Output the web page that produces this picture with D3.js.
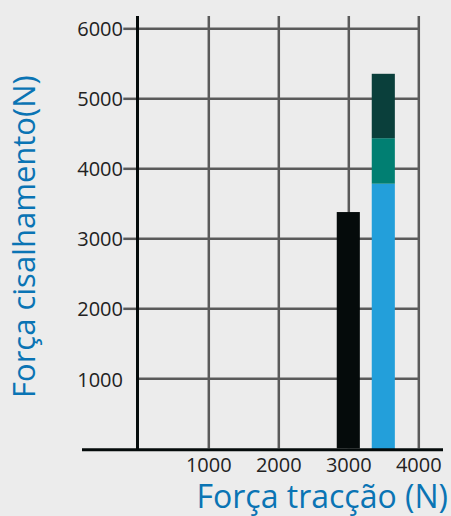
<!DOCTYPE html>
<html>
<head>
<meta charset="utf-8">
<script src="https://cdn.jsdelivr.net/npm/d3@7"></script>
<style>
  body { margin: 0; background: #ececec; }
</style>
</head>
<body>
<div id="vis"></div>
<script>
// data
const xTicks = [1000, 2000, 3000, 4000];
const yTicks = [1000, 2000, 3000, 4000, 5000, 6000];
const singleBar = [{ x: 3000, value: 3375 }];
const stackX = 3500;
const stackLayers = ['base', 'middle', 'top'];
const stackValues = [3780, 650, 920]; // tops at ~3780, ~4430, ~5350
const layerColors = ['#239fda', '#017f72', '#0a3f3b'];

const width = 451;
const height = 516;
const barWidth = 330; // in data units

const x = d3.scaleLinear().domain([0, 4000]).range([138.3, 418.3]);
const y = d3.scaleLinear().domain([0, 6000]).range([448.3, 28.3]);

const gridColor = '#5a5a5a';
const inkColor = '#050b0b';
const titleColor = '#0a74b4';
const font = '"Open Sans", sans-serif';
const fmt = d3.format('d');

const svg = d3.select('#vis')
    .append('svg')
    .attr('width', width)
    .attr('height', height)
    .style('background', '#ececec');

// vertical grid lines
svg.append('g')
    .attr('transform', `translate(0, ${y(0)})`)
    .call(d3.axisBottom(x).tickValues(xTicks).tickSize(-(y(0) - 16)).tickFormat(''))
    .call(g => g.select('.domain').remove())
    .call(g => g.selectAll('.tick line').attr('stroke', gridColor).attr('stroke-width', 2.5));

// horizontal grid lines
svg.append('g')
    .attr('transform', `translate(${x(0)}, 0)`)
    .call(d3.axisRight(y).tickValues(yTicks).tickSize(x(4000) - x(0)).tickFormat(''))
    .call(g => g.select('.domain').remove())
    .call(g => g.selectAll('.tick line').attr('stroke', gridColor).attr('stroke-width', 2.5));

// small stubs left of the y axis (none at 1000)
svg.append('g')
    .attr('transform', `translate(${x(0)}, 0)`)
    .call(d3.axisLeft(y).tickValues(yTicks.filter(d => d > 1000)).tickSize(15).tickFormat(''))
    .call(g => g.select('.domain').remove())
    .call(g => g.selectAll('.tick line').attr('stroke', gridColor).attr('stroke-width', 2.5));

// y tick labels
svg.append('g')
    .attr('transform', `translate(123, 0)`)
    .call(d3.axisLeft(y).tickValues(yTicks).tickSize(0).tickPadding(0).tickFormat(fmt))
    .call(g => g.select('.domain').remove())
    .call(g => g.selectAll('.tick text')
        .attr('fill', '#222')
        .attr('font-family', font)
        .attr('font-size', '20px')
        .attr('dy', d => d === 1000 ? '0.42em' : '0.34em'));

// x tick labels
svg.append('g')
    .attr('transform', `translate(0, ${y(0)})`)
    .call(d3.axisBottom(x).tickValues(xTicks).tickSize(0).tickPadding(10).tickFormat(fmt))
    .call(g => g.select('.domain').remove())
    .call(g => g.selectAll('.tick text')
        .attr('fill', '#222')
        .attr('font-family', font)
        .attr('font-size', '20px'));

// bars
svg.selectAll('.single')
    .data(singleBar)
    .join('rect')
    .attr('class', 'single')
    .attr('x', d => x(d.x - barWidth / 2))
    .attr('width', x(barWidth) - x(0))
    .attr('y', d => y(d.value))
    .attr('height', d => y(0) - y(d.value))
    .attr('fill', inkColor);

const stackRow = { x: stackX };
stackLayers.forEach((k, i) => stackRow[k] = stackValues[i]);
const series = d3.stack().keys(stackLayers)([stackRow]);

svg.selectAll('.stack')
    .data(series)
    .join('rect')
    .attr('class', 'stack')
    .attr('x', x(stackX - barWidth / 2))
    .attr('width', x(barWidth) - x(0))
    .attr('y', d => y(d[0][1]))
    .attr('height', d => y(d[0][0]) - y(d[0][1]) + (d[0][0] === 0 ? 1 : 0))
    .attr('fill', (d, i) => layerColors[i]);

// axis lines
svg.append('line')
    .attr('x1', 137.5).attr('x2', 137.5)
    .attr('y1', 16).attr('y2', 451)
    .attr('stroke', inkColor).attr('stroke-width', 3);

svg.append('line')
    .attr('x1', 82).attr('x2', 443)
    .attr('y1', 449.8).attr('y2', 449.8)
    .attr('stroke', inkColor).attr('stroke-width', 3);

// axis titles
svg.append('text')
    .attr('x', 448)
    .attr('y', 508)
    .attr('text-anchor', 'end')
    .attr('fill', titleColor)
    .attr('font-family', font)
    .attr('font-size', '32px')
    .text('Força tracção (N)');

svg.append('text')
    .attr('transform', 'translate(35, 398) rotate(-90)')
    .attr('text-anchor', 'start')
    .attr('fill', titleColor)
    .attr('font-family', font)
    .attr('font-size', '31px')
    .text('Força cisalhamento(N)');
</script>
</body>
</html>
